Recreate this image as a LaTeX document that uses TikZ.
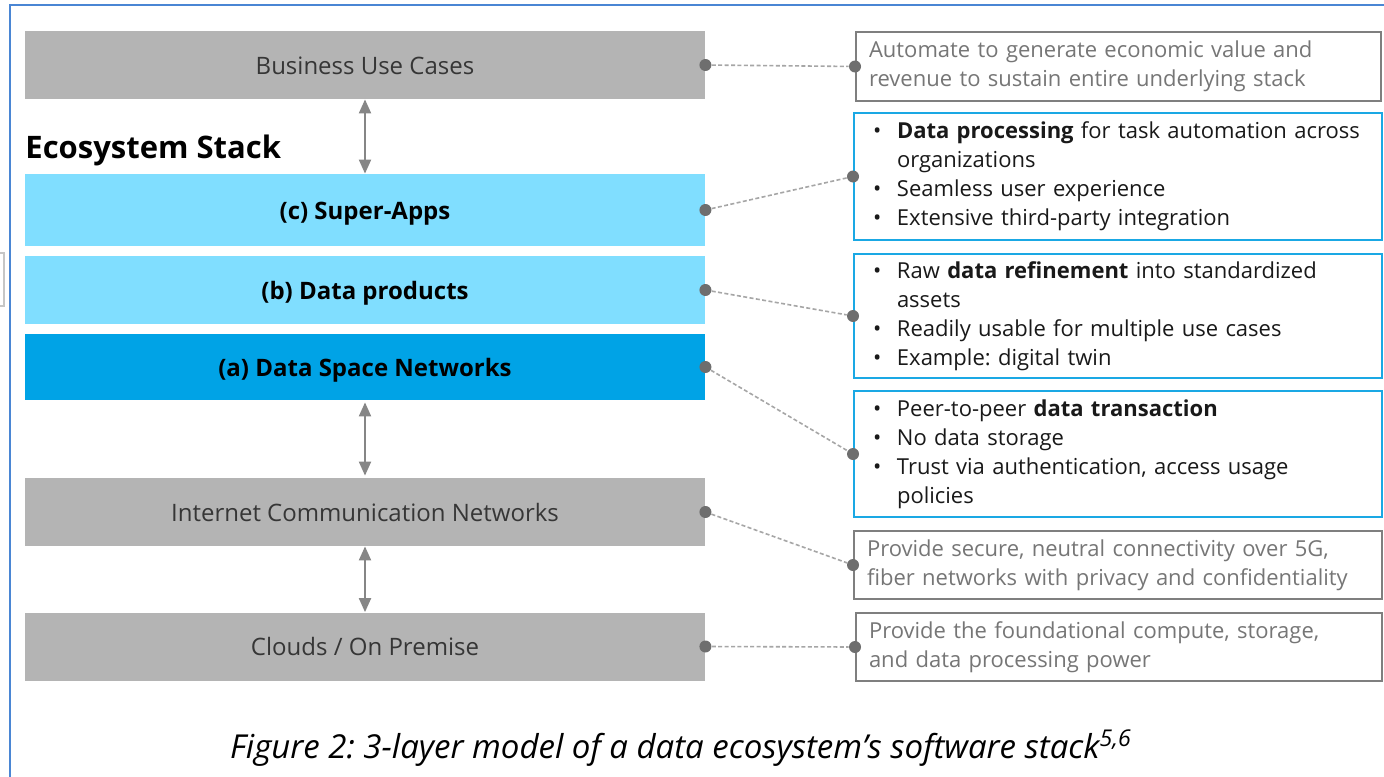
\documentclass[tikz,border=0pt]{standalone}
\usepackage{fontspec}
\setmainfont{Open Sans}
\usetikzlibrary{arrows.meta}
\frenchspacing
\definecolor{laygray}{HTML}{B4B4B4}
\definecolor{laylight}{HTML}{80DEFF}
\definecolor{laydark}{HTML}{00A3E6}
\definecolor{bordblue}{HTML}{1AA8E4}
\definecolor{bordgray}{HTML}{7F7F7F}
\definecolor{txtgray}{HTML}{767676}
\definecolor{labgray}{HTML}{363636}
\definecolor{dotgray}{HTML}{6E6E6E}
\definecolor{dashgray}{HTML}{A6A6A6}
\definecolor{framebl}{HTML}{4A86D4}
\newcommand{\bitem}{\makebox[12pt][l]{\textbullet}}
\newcommand{\bind}{\hspace*{12pt}}
\tikzset{
  layer/.style={minimum width=340pt, minimum height=34pt, inner sep=0pt, text height=10.2pt, text depth=1pt, font=\fontsize{12}{14}\selectfont\frenchspacing},
  graylayer/.style={layer, fill=laygray, text=labgray},
  lightlayer/.style={layer, fill=laylight, text=black, font=\fontsize{12}{14}\selectfont\bfseries},
  darklayer/.style={layer, fill=laydark, text=black, font=\fontsize{12}{14}\selectfont\bfseries},
  descbox/.style={draw, line width=1pt, align=left, inner xsep=6.5pt, inner ysep=0pt, anchor=north west,
     font=\fontsize{11}{14.5}\selectfont\frenchspacing},
  graydesc/.style={descbox, draw=bordgray, text=txtgray},
  bluedesc/.style={descbox, draw=bordblue, text=black!90, inner xsep=9.5pt},
  dotnode/.style={circle, fill=dotgray, inner sep=0pt, minimum size=6pt},
  dashlink/.style={dashgray, line width=0.8pt, dash pattern=on 2pt off 1.2pt},
  stackarrow/.style={line width=1pt, {Triangle[width=6pt,length=7pt]}-{Triangle[width=6pt,length=7pt]}, color=gray!95}
}
\begin{document}
\begin{tikzpicture}[x=0.5pt,y=-0.5pt]
\useasboundingbox (0,0) rectangle (1384,776);
\fill[white] (0,0) rectangle (1384,776);
% frame fragments
\draw[framebl, line width=1pt] (10,800) -- (10,5) -- (1400,5);
\draw[gray!45, line width=1pt] (-10,253) rectangle (4,306);

% stack layers
\node[graylayer] (buc) at (365,65) {Business Use Cases};
\node[lightlayer, minimum height=36pt] (sa) at (365,210) {(c) Super-Apps};
\node[lightlayer] (dp) at (365,290) {(b) Data products};
\node[darklayer, minimum height=33pt] (dsn) at (365,367) {(a) Data Space Networks};
\node[graylayer] (icn) at (365,512) {Internet Communication Networks};
\node[graylayer] (cop) at (365,646.5) {Clouds / On Premise};

\node[anchor=base west, inner sep=0pt, font=\fontsize{15.5}{18}\selectfont\bfseries] (eco) at (25,158) {Ecosystem Stack};

% arrows
\draw[stackarrow] (buc.south) -- (sa.north);
\draw[stackarrow] ([yshift=-1pt]dsn.south) -- ([yshift=1pt]icn.north);
\draw[stackarrow] (icn.south) -- (cop.north);

% description boxes
\node[graydesc, minimum width=262.5pt, minimum height=34.5pt, text width=249.5pt] (b1) at (855,31)
  {Automate to generate economic value and\\revenue to sustain entire underlying stack};
\node[bluedesc, minimum width=264pt, minimum height=63.5pt, text width=245pt] (b2) at (853,112)
  {\bitem\textbf{Data processing} for task automation across\\\bind organizations\\\bitem Seamless user experience\\\bitem Extensive third-party integration};
\node[bluedesc, minimum width=264pt, minimum height=62pt, text width=245pt] (b3) at (853,253)
  {\bitem Raw \textbf{data refinement} into standardized\\\bind assets\\\bitem Readily usable for multiple use cases\\\bitem Example: digital twin};
\node[bluedesc, minimum width=264pt, minimum height=63pt, text width=245pt] (b4) at (853,390)
  {\bitem Peer-to-peer \textbf{data transaction}\\\bitem No data storage\\\bitem Trust via authentication, access usage\\\bind policies};
\node[graydesc, minimum width=264pt, minimum height=34pt, text width=251pt] (b5) at (853,530)
  {Provide secure, neutral connectivity over 5G,\\fiber networks with privacy and confidentiality};
\node[graydesc, minimum width=263pt, minimum height=34pt, text width=250pt] (b6) at (855,612)
  {Provide the foundational compute, storage,\\and data processing power};

% dots and links
\foreach \l/\b [count=\i] in {buc/b1, sa/b2, dp/b3, dsn/b4, icn/b5, cop/b6} {
  \node[dotnode] (l\i) at (\l.east) {};
  \node[dotnode] (r\i) at (\b.west) {};
  \draw[dashlink] (l\i) -- (r\i);
}

% caption
\node[font=\fontsize{16.5}{19}\selectfont\itshape\frenchspacing, inner sep=0pt] (cap) at (681,748)
  {Figure 2: 3-layer model of a data ecosystem’s software stack\textsuperscript{5,6}};
\end{tikzpicture}
\end{document}
